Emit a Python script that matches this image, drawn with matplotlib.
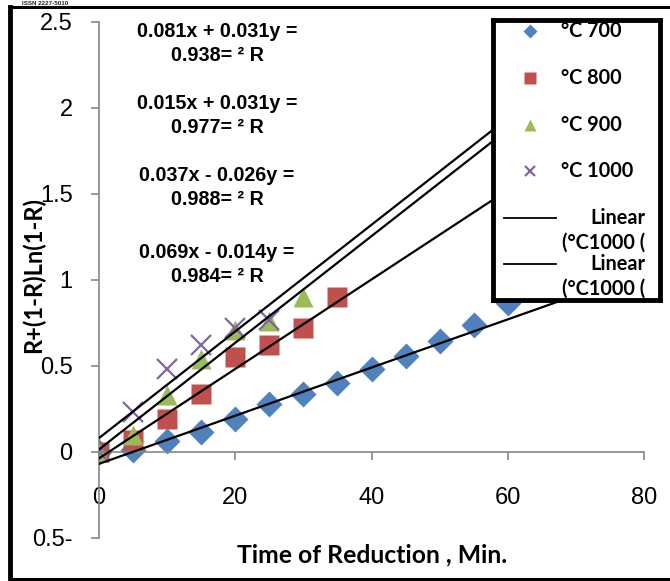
import matplotlib
matplotlib.use("Agg")
import matplotlib.pyplot as plt
import numpy as np
from matplotlib.patches import Rectangle
from matplotlib.lines import Line2D

# reduction kinetics: R + (1-R)ln(1-R) vs time, four temperatures
t700 = [0, 5, 10, 15, 20, 25, 30, 35, 40, 45, 50, 55, 60]
f700 = [0, 0.01, 0.065, 0.115, 0.19, 0.28, 0.34, 0.40, 0.48, 0.56, 0.645, 0.74, 0.865]
t800 = [0, 5, 10, 15, 20, 25, 30, 35]
f800 = [0, 0.07, 0.19, 0.34, 0.55, 0.62, 0.72, 0.90]
t900 = [0, 5, 10, 15, 20, 25, 30]
f900 = [0, 0.10, 0.33, 0.54, 0.71, 0.76, 0.90]
t1000 = [0, 5, 10, 15, 20, 25]
f1000 = [0, 0.23, 0.48, 0.62, 0.72, 0.77]

# trendline fits (slope, intercept, R^2)
fits = [(0.031, 0.081, 0.938), (0.031, 0.015, 0.977),
        (0.026, -0.037, 0.988), (0.014, -0.069, 0.984)]

series = [
    ("°C 700", t700, f700, dict(marker="D", ms=13, color="#4F81BD", mec="none")),
    ("°C 800", t800, f800, dict(marker="s", ms=14.5, color="#C0504D", mec="none")),
    ("°C 900", t900, f900, dict(marker="^", ms=15, color="#9BBB59", mec="none")),
    ("°C 1000", t1000, f1000, dict(marker="x", ms=14, color="#8064A2", mew=1.6)),
]

xticks = [0, 20, 40, 60, 80]
yticks = [-0.5, 0, 0.5, 1, 1.5, 2, 2.5]
ytick_labels = ["0.5-", "0", "0.5", "1", "1.5", "2", "2.5"]

W, H = 670, 581
fig = plt.figure(figsize=(W / 100, H / 100), dpi=100)
ax = fig.add_axes([99 / W, 1 - 538 / H, 545 / W, 516 / H])

GRAY = "#868686"
for name, tx, fx, st in series:
    ax.plot(tx, fx, ls="none", label=name, **st)

xx = np.array([0, 80])
for m, b, r2 in fits:
    ax.plot(xx, m * xx + b, color="black", lw=1.6, zorder=4)

ax.set_xlim(0, 80)
ax.set_ylim(-0.5, 2.5)
ax.set_xticks(xticks)
ax.set_yticks(yticks)
ax.set_yticklabels(ytick_labels)
ax.spines["top"].set_visible(False)
ax.spines["right"].set_visible(False)
ax.spines["bottom"].set_position(("data", 0))
for s in ("left", "bottom"):
    ax.spines[s].set_color(GRAY)
    ax.spines[s].set_linewidth(1.2)
ax.tick_params(axis="both", colors=GRAY, labelcolor="black", length=6, width=1.2,
               labelsize=17)
ax.tick_params(axis="x", pad=19)
ax.tick_params(axis="y", pad=13)
for lab in ax.get_xticklabels() + ax.get_yticklabels():
    lab.set_family("Liberation Sans")

ax.set_xlabel("Time of Reduction , Min.", family="Lato", fontweight="bold",
              fontsize=17.8, va="center")
ax.xaxis.set_label_coords(0.501, -0.033)
ax.set_ylabel("R+(1-R)Ln(1-R)", family="Lato", fontweight="bold",
              fontsize=17, va="center")
ax.yaxis.set_label_coords(-0.121, 0.51)

# fit equations, written right-to-left as in the source document
eq_y = [0.959, 0.819, 0.679, 0.530]
for (m, b, r2), yy in zip(fits, eq_y):
    sign = "+" if b >= 0 else "-"
    txt = f"{abs(b):.3f}x {sign} {m:.3f}y =\n{r2:.3f}= ² R"
    ax.text(0.2165, yy, txt, transform=ax.transAxes, ha="center", va="center",
            family="Liberation Sans", fontweight="bold", fontsize=14.2,
            linespacing=1.32)

# legend box (fixed size, contents clipped like the spreadsheet legend)
lx0, lx1, ly0, ly1 = 493, 660, 20, 300
lg = fig.add_axes([lx0 / W, 1 - ly1 / H, (lx1 - lx0) / W, (ly1 - ly0) / H])
lg.set_xlim(lx0, lx1)
lg.set_ylim(ly1, ly0)
lg.set_xticks([])
lg.set_yticks([])
lg.set_facecolor("white")
for s in lg.spines.values():
    s.set_linewidth(3.5)
    s.set_color("black")
lg.set_zorder(5)

entry_y = [31, 78, 125, 171]
for (name, tx, fx, st), yy in zip(series, entry_y):
    st2 = dict(st)
    st2["ms"] = st["ms"] * 0.55
    lg.plot([530], [yy], ls="none", **st2)
    lg.text(561, yy, name, ha="left", va="center", family="Lato",
            fontweight="bold", fontsize=14.3, clip_on=True)
for yy in [218, 264]:
    lg.add_line(Line2D([504, 556], [yy, yy], color="black", lw=1.3))
    lg.text(645, yy, "Linear", ha="right", va="center", family="Lato",
            fontweight="bold", fontsize=14.3, clip_on=True)
    lg.text(645, yy + 25, "(°C1000 (", ha="right", va="center", family="Lato",
            fontweight="bold", fontsize=14.3, clip_on=True)

# page frame around the chart
fig.add_artist(Rectangle((10 / W, 2 / H), 1.0, 572 / H, transform=fig.transFigure,
                         fill=False, lw=2.2, color="black"))
fig.add_artist(Line2D([10 / W, 10 / W], [2 / H, 574 / H], transform=fig.transFigure,
                      lw=3.5, color="black"))
fig.text(22 / W, 0.999, "ISSN 2227-5010", ha="left", va="top", fontsize=4.5,
         family="Liberation Sans", fontweight="bold", color="#222222")

fig.savefig("out.png", dpi=100)
